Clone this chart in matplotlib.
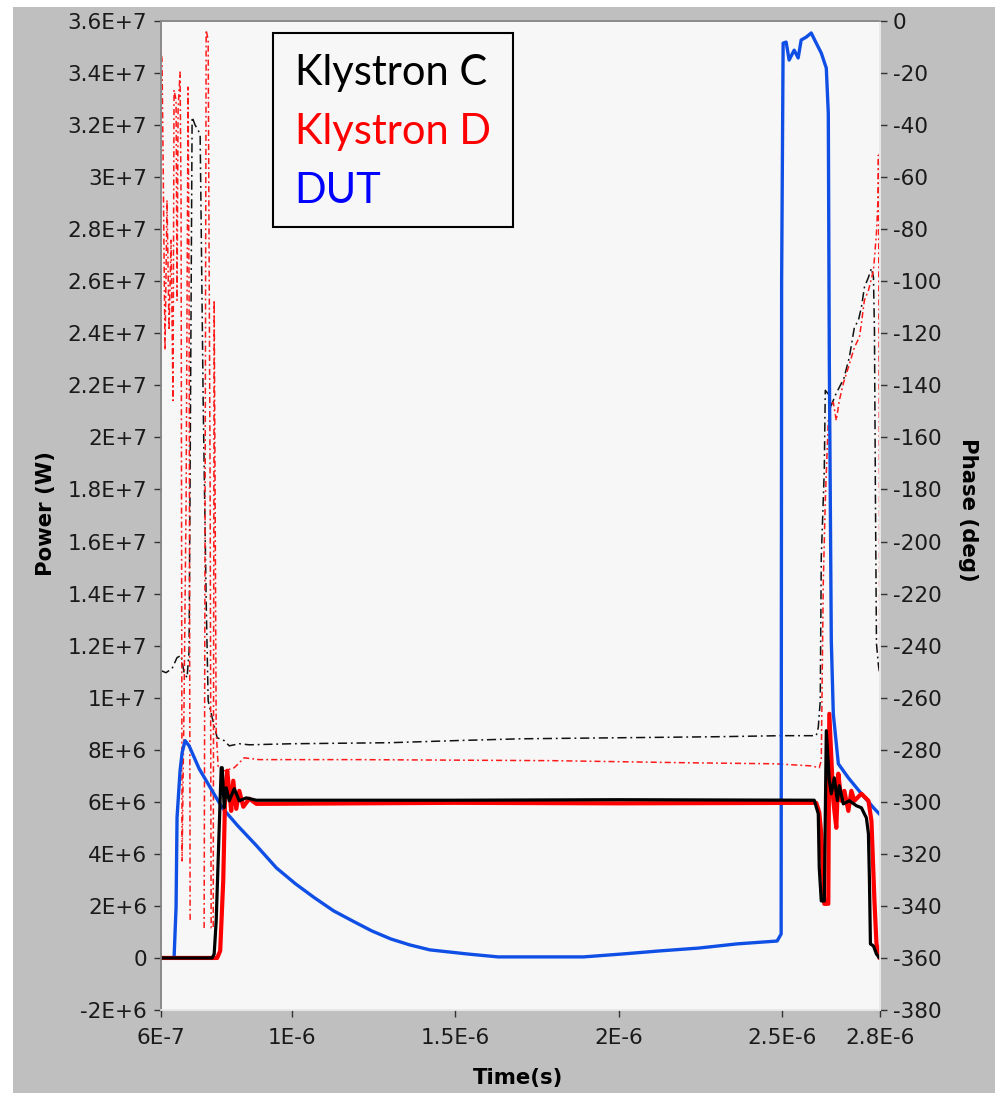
import numpy as np
import matplotlib
matplotlib.use("Agg")
import matplotlib.pyplot as plt
from matplotlib.patches import Rectangle
from matplotlib.ticker import FuncFormatter

# time in microseconds, power in MW, phase in degrees
t_dut = [0.600, 0.640, 0.6461, 0.6491, 0.6583, 0.6645, 0.6737, 0.686, 0.7167,
         0.7873, 0.8333, 0.8917, 0.9531, 1.0114, 1.0698, 1.1281, 1.1864, 1.2448,
         1.3031, 1.3614, 1.4228, 1.5395, 1.6316, 1.8926, 2.0093, 2.1259, 2.2457,
         2.3624, 2.4852, 2.4975, 2.4990, 2.5036, 2.5128, 2.5220, 2.5374, 2.5496,
         2.5588, 2.5742, 2.5896, 2.6049, 2.6203, 2.6357, 2.6418, 2.6449, 2.6510,
         2.6571, 2.6725, 2.7032, 2.7431, 2.7830, 2.7984]
p_dut = [0, 0, 1.96, 5.4, 7.19, 7.88, 8.35, 8.15, 7.27,
         5.77, 5.10, 4.32, 3.46, 2.85, 2.31, 1.81, 1.42, 1.04,
         0.73, 0.50, 0.31, 0.15, 0.04, 0.04, 0.15, 0.27, 0.38,
         0.54, 0.65, 0.92, 26.0, 35.15, 35.19, 34.5, 34.88, 34.58,
         35.27, 35.38, 35.54, 35.15, 34.77, 34.19, 32.46, 22.96, 12.19,
         9.38, 7.46, 6.92, 6.31, 5.73, 5.53]

t_klyc = [0.600, 0.7566, 0.7627, 0.7689, 0.7781, 0.7842, 0.7873, 0.7934, 0.7996,
          0.8088, 0.8241, 0.8395, 0.8610, 0.8917, 1.5, 2.0, 2.5988, 2.6111,
          2.6141, 2.6203, 2.6295, 2.6357, 2.6449, 2.6510, 2.6602, 2.6694, 2.6755,
          2.6878, 2.7062, 2.7277, 2.7431, 2.7584, 2.7646, 2.7677, 2.7707, 2.7800,
          2.7892, 2.7984, 2.8000]
p_klyc = [0, 0, 0.15, 1.42, 5.0, 7.31, 7.31, 5.77, 6.54,
          6.04, 6.50, 6.04, 6.15, 6.06, 6.06, 6.08, 6.06, 5.54,
          3.46, 2.19, 2.19, 8.73, 6.81, 6.31, 6.92, 6.04, 6.62,
          5.92, 6.04, 5.85, 5.77, 5.38, 4.77, 2.96, 0.54, 0.46,
          0.15, 0.0, 0.0]

t_klyd = [0.600, 0.7719, 0.7811, 0.7904, 0.7965, 0.8026, 0.8057, 0.8088, 0.8149,
          0.8211, 0.8303, 0.8395, 0.8518, 0.8702, 0.8917, 1.5, 2.0, 2.6049,
          2.6141, 2.6203, 2.6295, 2.6418, 2.6449, 2.6571, 2.6663, 2.6725, 2.6817,
          2.6909, 2.7032, 2.7124, 2.7216, 2.7431, 2.7646, 2.7738, 2.7830, 2.7892,
          2.7984, 2.8000]
p_klyd = [0, 0, 0.27, 2.96, 6.42, 7.19, 6.81, 6.42, 5.65,
          6.81, 5.73, 6.42, 5.81, 6.12, 5.92, 5.96, 5.94, 5.96,
          5.6, 4.77, 2.08, 2.08, 9.38, 6.04, 5.0, 7.08, 6.04,
          6.42, 5.65, 6.42, 6.04, 6.31, 6.04, 5.27, 2.19, 0.54,
          0.0, 0.0]

t_phc = [0.600, 0.6154, 0.6338, 0.6491, 0.6614, 0.6706, 0.6798, 0.6860, 0.6921,
         0.6952, 0.7044, 0.7136, 0.7198, 0.7290, 0.7382, 0.7443, 0.7566, 0.7719,
         0.7934, 0.8088, 0.8395, 0.8702, 1.0, 1.3, 1.5, 1.7, 2.0,
         2.3, 2.5, 2.6049, 2.6111, 2.6172, 2.6203, 2.6295, 2.6326, 2.6449,
         2.6510, 2.6633, 2.6817, 2.6878, 2.7062, 2.7216, 2.7339, 2.7431, 2.7523,
         2.7646, 2.7738, 2.7800, 2.7830, 2.7861, 2.7892, 2.7953, 2.8000]
ph_klyc = [-249.6, -250.4, -248.8, -244.6, -243.8, -250.4, -252.3, -241.9, -107.3,
           -36.9, -40.0, -41.9, -43.8, -145.8, -222.7, -261.2, -267.7, -275.4,
           -276.5, -278.5, -277.7, -278.1, -277.7, -277.3, -276.5, -275.8, -275.4,
           -275.0, -274.6, -274.6, -271.5, -261.2, -206.2, -172.7, -141.9, -143.8,
           -147.7, -143.8, -139.2, -138.1, -129.2, -117.7, -115.0, -110.0, -102.3,
           -98.5, -95.0, -98.5, -118.8, -184.2, -239.2, -247.7, -251.5]

t_phd = [0.6000, 0.6003, 0.6031, 0.6061, 0.6123, 0.6184, 0.6246, 0.6307, 0.6368,
         0.6399, 0.6461, 0.6491, 0.6522, 0.6583, 0.6614, 0.6645, 0.6706, 0.6768,
         0.6829, 0.6860, 0.6891, 0.7100, 0.7320, 0.7382, 0.7443, 0.7505, 0.7535,
         0.7597, 0.7627, 0.7689, 0.7750, 0.7934, 0.8241, 0.8548, 0.9009, 1.2,
         1.5, 1.8, 2.209, 2.479, 2.589, 2.6141, 2.6203, 2.6264, 2.6326,
         2.6418, 2.6510, 2.6571, 2.6663, 2.6755, 2.6878, 2.7032, 2.7216, 2.7370,
         2.7431, 2.7523, 2.7646, 2.7800, 2.7892, 2.7938, 2.7953, 2.7984, 2.8000]
ph_klyd = [-360, -11.2, -15.0, -49.6, -126.5, -68.8, -118.8, -84.2, -145.8,
           -26.5, -30.4, -107.3, -34.6, -19.6, -68.8, -322.7, -261.2, -184.2,
           -25.4, -107.3, -345.8, np.nan, -348.5, -3.5, -7.3, -184.2, -348.5,
           -348.5, -107.3, -272.7, -286.9, -288.1, -286.9, -283.1, -283.8, -283.8,
           -284.0, -284.2, -285.0, -285.4, -286.2, -286.9, -284.2, -216.2, -184.2,
           -153.5, -146.9, -146.5, -153.5, -145.8, -139.2, -133.1, -125.4, -121.5,
           -116.2, -107.3, -103.5, -95.8, -81.5, -68.8, -51.5, -180, -312]

legend_names = ["Klystron C", "Klystron D", "DUT"]
legend_colors = ["#000000", "#ff0000", "#0000ff"]

x_ticks = [6e-7, 1e-6, 1.5e-6, 2e-6, 2.5e-6, 2.8e-6]

PANEL = "#bfbfbf"
PLOT_BG = "#f7f7f7"
TXT = "#1a1a1a"


def sci_label(v, pos=None):
    # LabVIEW style: 3.6E+7, 1.5E-6, 0
    if abs(v) < 1e-30:
        return "0"
    e = int(np.floor(np.log10(abs(v)) + 1e-9))
    m = round(v / 10 ** e, 3)
    return f"{m:g}E{e:+d}"


us = 1e-6
MW = 1e6

fig = plt.figure(figsize=(9.99, 10.95), dpi=100)
fig.patch.set_facecolor("white")
fig.patches.append(Rectangle((13 / 999, 2 / 1095), 982 / 999, 1086 / 1095,
                             transform=fig.transFigure, facecolor=PANEL,
                             edgecolor="none", zorder=-5))

ax = fig.add_axes([161 / 999, 85 / 1095, 719 / 999, 989 / 1095])
ax2 = ax.twinx()

# power on top of the phase traces
ax2.set_zorder(1)
ax.set_zorder(2)
ax.patch.set_visible(False)
ax2.patch.set_visible(True)
ax2.patch.set_facecolor(PLOT_BG)

# phase traces (right axis)
ax2.plot(np.array(t_phc) * us, ph_klyc, color="#111111", lw=1.1,
         linestyle=(0, (6, 2.5, 1.2, 2.5)))
ax2.plot(np.array(t_phd) * us, ph_klyd, color="#ff1a1a", lw=1.1,
         linestyle=(0, (4, 2, 1.2, 2)))

# power traces (left axis)
ax.plot(np.array(t_dut) * us, np.array(p_dut) * MW, color="#0f4fe6", lw=2.4)
ax.plot(np.array(t_klyd) * us, np.array(p_klyd) * MW, color="#ff0000", lw=3.0)
ax.plot(np.array(t_klyc) * us, np.array(p_klyc) * MW, color="#000000", lw=2.3)

ax.set_xlim(6e-7, 2.8e-6)
ax.set_ylim(-2e6, 3.6e7)
ax2.set_ylim(-380, 0)

ax.set_xticks(x_ticks)
ax.set_yticks(np.arange(-2e6, 3.6e7 + 1, 2e6))
ax2.set_yticks(np.arange(-380, 1, 20))
ax.xaxis.set_major_formatter(FuncFormatter(sci_label))
ax.yaxis.set_major_formatter(FuncFormatter(sci_label))
ax2.yaxis.set_major_formatter(FuncFormatter(lambda v, p: f"{v:.0f}"))

ax.tick_params(axis="y", direction="out", length=5, width=1, pad=5,
               labelsize=15.5, labelcolor=TXT, color="#333333")
ax.tick_params(axis="x", direction="out", length=5, width=1, pad=8,
               labelsize=15.5, labelcolor=TXT, color="#333333")
ax2.tick_params(axis="y", direction="out", length=5, width=1, pad=4,
                labelsize=15.5, labelcolor=TXT, color="#333333")

for a in (ax, ax2):
    a.spines["left"].set_color("#8a8a8a")
    a.spines["top"].set_color("#8a8a8a")
    a.spines["right"].set_color("#e8e8e8")
    a.spines["bottom"].set_color("#e8e8e8")
    for s in a.spines.values():
        s.set_linewidth(1.2)

# legend box with coloured names
ax.add_patch(Rectangle((0.1558, 0.7917), 0.3338, 0.1962, transform=ax.transAxes,
                       facecolor=PLOT_BG, edgecolor="black", lw=1.5, zorder=5))
for i, (name, col) in enumerate(zip(legend_names, legend_colors)):
    ax.text(0.186, 0.9353 - i * 0.0595, name, transform=ax.transAxes,
            color=col, fontsize=30, family=["Lato", "DejaVu Sans"],
            va="baseline", ha="left", zorder=6)

fig.text(46 / 999, 1 - 514 / 1095, "Power (W)", rotation=90, ha="center",
         va="center", fontsize=15.3, fontweight="bold", color="black")
fig.text(968 / 999, 1 - 510 / 1095, "Phase (deg)", rotation=270, ha="center",
         va="center", fontsize=15.3, fontweight="bold", color="black")
fig.text(518 / 999, 1 - 1078 / 1095, "Time(s)", ha="center", va="center",
         fontsize=15.3, fontweight="bold", color="black")

fig.savefig("out.png", dpi=100, facecolor=fig.get_facecolor())
